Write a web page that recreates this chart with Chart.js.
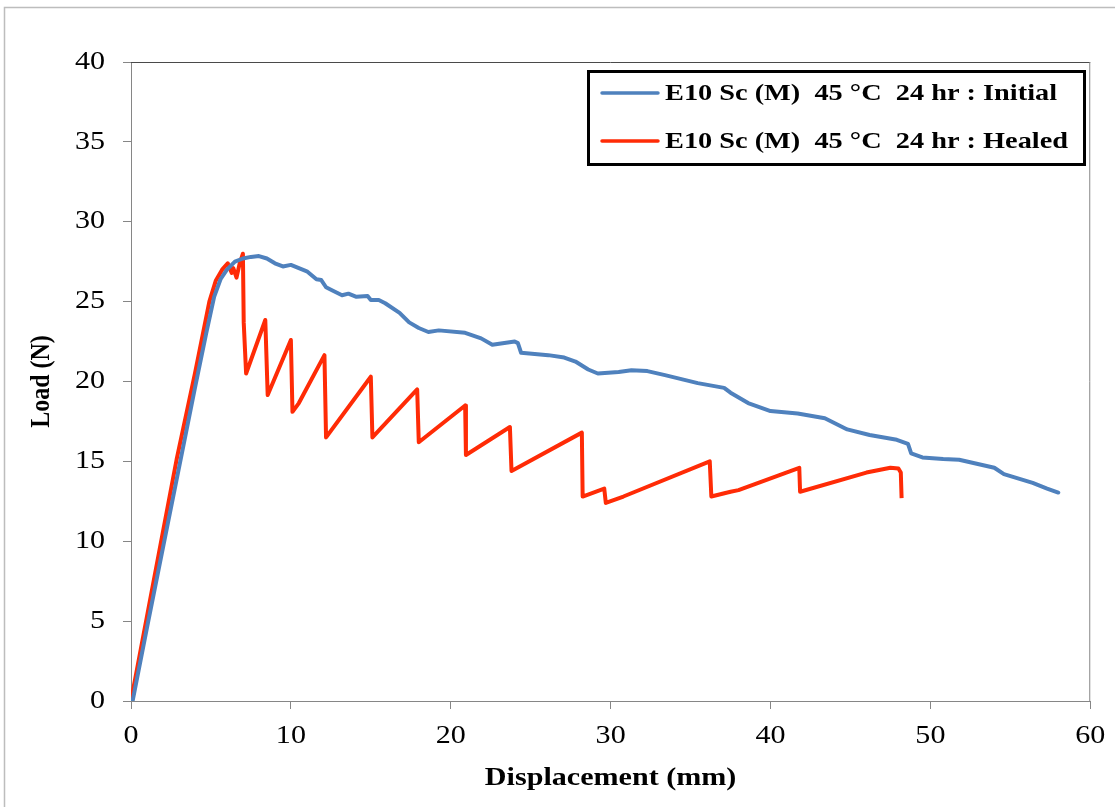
<!DOCTYPE html>
<html>
<head>
<meta charset="utf-8">
<script src="https://cdn.jsdelivr.net/npm/chart.js@4/dist/chart.umd.min.js"></script>
<style>
  html, body { margin: 0; padding: 0; background: #ffffff; }
  #wrap { position: relative; width: 1115px; height: 807px; }
  canvas { display: block; }
</style>
</head>
<body>
<div id="wrap"><canvas id="c" width="1115" height="807"></canvas></div>
<script>
// ---- data ----
const seriesLabels = [
  'E10 Sc (M)  45 \u00B0C  24 hr : Initial',
  'E10 Sc (M)  45 \u00B0C  24 hr : Healed'
];
const xTickValues = [0, 10, 20, 30, 40, 50, 60];
const yTickValues = [0, 5, 10, 15, 20, 25, 30, 35, 40];

const initialX = [0.1, 1, 2, 3.1, 4, 4.7, 5.2, 5.6, 6, 6.5, 7, 7.5, 8, 8.5, 9, 9.5, 10, 10.5, 11, 11.6, 11.9, 12.2, 12.6, 13.2, 13.6, 14.1, 14.8, 15.0, 15.5, 15.9, 16.8, 17.4, 18.0, 18.6, 19.25, 20.9, 21.9, 22.6, 24.0, 24.2, 24.4, 26.1, 27.1, 27.8, 28.6, 29.2, 30.5, 31.3, 32.3, 33.4, 35.45, 37.1, 37.5, 38.6, 40, 41.7, 43.4, 44.8, 46.2, 47.9, 48.6, 48.8, 49.5, 50.8, 51.8, 52.9, 54, 54.6, 56.4, 57.3, 58];
const initialY = [0, 4.6, 9.6, 15.1, 19.6, 23.0, 25.3, 26.4, 27.0, 27.5, 27.7, 27.8, 27.85, 27.7, 27.4, 27.2, 27.3, 27.1, 26.9, 26.4, 26.35, 25.9, 25.7, 25.4, 25.5, 25.3, 25.35, 25.1, 25.1, 24.9, 24.3, 23.7, 23.35, 23.1, 23.2, 23.05, 22.7, 22.3, 22.5, 22.4, 21.8, 21.65, 21.5, 21.25, 20.75, 20.5, 20.6, 20.7, 20.65, 20.4, 19.9, 19.6, 19.3, 18.65, 18.15, 18.0, 17.7, 17.0, 16.65, 16.35, 16.1, 15.5, 15.25, 15.15, 15.1, 14.85, 14.6, 14.2, 13.65, 13.3, 13.05];

const healedX = [0, 1, 2, 2.85, 4, 4.9, 5.3, 5.7, 6.05, 6.3, 6.4, 6.6, 6.8, 7.0, 7.05, 7.2, 8.4, 8.55, 10.0, 10.1, 10.5, 12.1, 12.2, 15.0, 15.1, 17.9, 18.0, 20.9, 20.95, 23.7, 23.8, 28.2, 28.25, 29.6, 29.7, 30.8, 36.2, 36.3, 37.5, 38.0, 41.8, 41.85, 46.0, 47.5, 48.0, 48.15, 48.2];
const healedY = [0, 5.3, 10.6, 15.1, 20.5, 25.0, 26.3, 27.0, 27.4, 26.8, 27.1, 26.5, 27.4, 28.0, 23.7, 20.5, 23.85, 19.15, 22.6, 18.1, 18.65, 21.65, 16.5, 20.3, 16.5, 19.5, 16.2, 18.5, 15.4, 17.15, 14.4, 16.8, 12.8, 13.3, 12.4, 12.8, 15.0, 12.8, 13.1, 13.2, 14.6, 13.1, 14.3, 14.6, 14.55, 14.3, 12.7];

const seriesColors = ['#4F81BD', '#FF2B06'];

// ---- build ----
const toPoints = (xs, ys) => xs.map((x, i) => ({ x: x, y: ys[i] }));
const SERIF = "'Liberation Serif', 'Times New Roman', serif";
const TEXT_STRETCH = 1.18; // the reference's lettering is wider than it is tall

const canvas = document.getElementById('c');
const ctx0 = canvas.getContext('2d');
// widen every text run horizontally (in screen space) around its anchor point
const origFillText = ctx0.fillText.bind(ctx0);
ctx0.fillText = function (text, x, y, maxWidth) {
  const T = ctx0.getTransform();
  const px = T.a * x + T.c * y + T.e;
  const py = T.b * x + T.d * y + T.f;
  const S = new DOMMatrix().translate(px, py).scale(TEXT_STRETCH, 1).translate(-px, -py).multiply(T);
  ctx0.save();
  ctx0.setTransform(S);
  if (maxWidth === undefined) origFillText(text, x, y);
  else origFillText(text, x, y, maxWidth * 2);
  ctx0.restore();
};

const framePlugin = {
  id: 'frame',
  beforeDraw(chart) {
    const ctx = chart.ctx;
    ctx.save();
    ctx.fillStyle = '#ffffff';
    ctx.fillRect(0, 0, chart.width, chart.height);
    ctx.strokeStyle = '#BDBDBD';
    ctx.lineWidth = 1.5;
    ctx.beginPath();
    ctx.moveTo(4.5, chart.height);
    ctx.lineTo(4.5, 7.5);
    ctx.lineTo(chart.width, 7.5);
    ctx.stroke();
    ctx.restore();
  },
  afterDraw(chart) {
    const ctx = chart.ctx;
    const a = chart.chartArea;
    ctx.save();
    // plot area top & right border
    ctx.strokeStyle = '#4a4a4a';
    ctx.lineWidth = 1;
    ctx.beginPath();
    ctx.moveTo(a.left, a.top + 0.5);
    ctx.lineTo(a.right, a.top + 0.5);
    ctx.stroke();
    ctx.strokeStyle = '#868686';
    ctx.beginPath();
    ctx.moveTo(a.right - 0.5, a.top);
    ctx.lineTo(a.right - 0.5, a.bottom);
    ctx.stroke();

    // legend box
    const bx = 587, by = 70, bw = 499, bh = 96;
    ctx.fillStyle = '#ffffff';
    ctx.fillRect(bx, by, bw, bh);
    ctx.strokeStyle = '#000000';
    ctx.lineWidth = 3;
    ctx.strokeRect(bx + 1.5, by + 1.5, bw - 3, bh - 3);
    ctx.font = 'bold 24px ' + SERIF;
    ctx.textBaseline = 'middle';
    ctx.textAlign = 'left';
    chart.data.datasets.forEach((ds, i) => {
      const yy = by + 23 + i * 48;
      ctx.strokeStyle = ds.borderColor;
      ctx.lineWidth = 3.5;
      ctx.lineCap = 'round';
      ctx.beginPath();
      ctx.moveTo(602, yy);
      ctx.lineTo(658, yy);
      ctx.stroke();
      ctx.fillStyle = '#000000';
      ctx.fillText(ds.label, 665, yy + 1);
    });
    ctx.restore();
  }
};

new Chart(canvas, {
  type: 'scatter',
  data: {
    datasets: [
      {
        label: seriesLabels[0],
        data: toPoints(initialX, initialY),
        showLine: true,
        borderColor: seriesColors[0],
        backgroundColor: seriesColors[0],
        borderWidth: 4,
        pointRadius: 0,
        tension: 0,
        borderJoinStyle: 'round',
        borderCapStyle: 'round'
      },
      {
        label: seriesLabels[1],
        data: toPoints(healedX, healedY),
        showLine: true,
        borderColor: seriesColors[1],
        backgroundColor: seriesColors[1],
        borderWidth: 4,
        pointRadius: 0,
        tension: 0,
        borderJoinStyle: 'round',
        borderCapStyle: 'butt'
      }
    ]
  },
  options: {
    responsive: false,
    devicePixelRatio: 1,
    animation: false,
    events: [],
    layout: { padding: { top: 62, right: 21, left: 0, bottom: 0 } },
    plugins: {
      legend: { display: false },
      tooltip: { enabled: false }
    },
    scales: {
      x: {
        type: 'linear',
        min: 0, max: 60,
        afterBuildTicks(scale) { scale.ticks = xTickValues.map(v => ({ value: v })); },
        afterFit(scale) { scale.height = 106; },
        ticks: {
          color: '#000000',
          font: { family: SERIF, size: 25.5 },
          padding: 12,
          maxRotation: 0
        },
        grid: { drawOnChartArea: false, drawTicks: true, tickLength: 8, color: '#868686', lineWidth: 1 },
        border: { display: true, color: '#868686', width: 1 },
        title: {
          display: true,
          text: 'Displacement (mm)',
          color: '#000000',
          font: { family: SERIF, size: 25.5, weight: 'bold' },
          padding: { top: 0, bottom: 13 }
        }
      },
      y: {
        type: 'linear',
        min: 0, max: 40,
        afterBuildTicks(scale) { scale.ticks = yTickValues.map(v => ({ value: v })); },
        afterFit(scale) { scale.width = 131; },
        ticks: {
          color: '#000000',
          font: { family: SERIF, size: 25.5 },
          padding: 18
        },
        grid: { drawOnChartArea: false, drawTicks: true, tickLength: 8, color: '#868686', lineWidth: 1 },
        border: { display: true, color: '#868686', width: 1 },
        title: {
          display: true,
          text: 'Load (N)',
          color: '#000000',
          font: { family: SERIF, size: 24, weight: 'bold' },
          padding: { top: 27, bottom: 0 }
        }
      }
    }
  },
  plugins: [framePlugin]
});
</script>
</body>
</html>
